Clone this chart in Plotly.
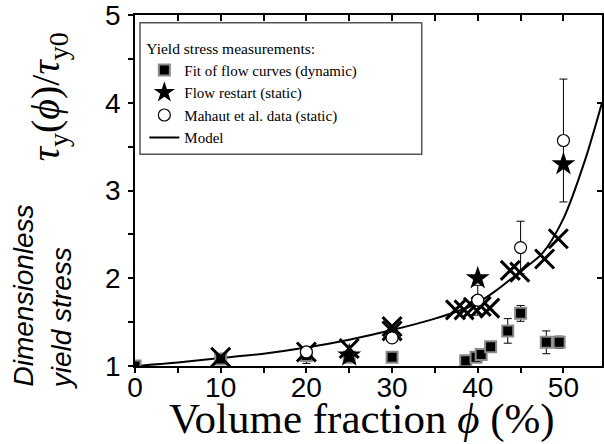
import plotly.graph_objects as go

# Fit of flow curves (dynamic)
sq_x = [0, 10, 20, 25, 30, 38.6, 39.8, 40.4, 41.5, 43.5, 45.0, 48.0, 49.5]
sq_y = [1.0, 1.08, 1.12, 1.1, 1.1, 1.06, 1.1, 1.13, 1.22, 1.40, 1.60, 1.27, 1.27]
sq_err = [0, 0, 0.09, 0, 0, 0, 0, 0, 0, 0.14, 0.09, 0.13, 0.07]

# Flow restart (static)
st_x = [25, 40, 50]
st_y = [1.12, 2.0, 3.3]

# Mahaut et al. data (static)
ci_x = [20, 30, 40, 45, 50]
ci_y = [1.16, 1.32, 1.75, 2.35, 3.57]
ci_err = [0, 0, 0.17, 0.3, 0.7]

# cross markers (no legend entry)
xx_x = [10, 20, 25, 30, 30, 37.4, 38.4, 39.5, 40.4, 41.4, 43.8, 44.9, 47.8, 49.4]
xx_y = [1.1, 1.16, 1.2, 1.45, 1.40, 1.64, 1.64, 1.67, 1.68, 1.66, 2.09, 2.07, 2.22, 2.45]

# Model curve
md_x = [0, 5, 10, 15, 20, 25, 30, 35, 38.9, 40, 42, 45, 47.5, 50, 52.5, 54.5]
md_y = [1.0, 1.04, 1.09, 1.14, 1.21, 1.30, 1.41, 1.54, 1.67, 1.72, 1.85, 2.08, 2.28, 2.68, 3.34, 4.0]

x_ticks = [0, 10, 20, 30, 40, 50]
y_ticks = [1, 2, 3, 4, 5]
top_ticks = [0, 5, 10, 15, 20, 25, 30, 35, 40, 45, 50]

SERIF = "Liberation Serif"
SANS = "Liberation Sans"

fig = go.Figure()

fig.add_trace(go.Scatter(x=md_x, y=md_y, mode="lines", name="Model",
                         line=dict(color="black", width=2, shape="spline", smoothing=0.8),
                         legendrank=4))
fig.add_trace(go.Scatter(x=sq_x, y=sq_y, mode="markers", name="Fit of flow curves (dynamic)",
                         marker=dict(symbol="square", size=11, color="black",
                                     line=dict(color="#8a8a8a", width=2)),
                         error_y=dict(type="data", array=sq_err, color="black", thickness=1, width=4),
                         legendrank=1))
fig.add_trace(go.Scatter(x=xx_x, y=xx_y, mode="markers", showlegend=False,
                         marker=dict(symbol="x-thin", size=19, color="black",
                                     line=dict(color="black", width=3))))
fig.add_trace(go.Scatter(x=st_x, y=st_y, mode="markers", name="Flow restart (static)",
                         marker=dict(symbol="star", size=18, color="black",
                                     line=dict(width=0)),
                         legendrank=2))
fig.add_trace(go.Scatter(x=ci_x, y=ci_y, mode="markers", name="Mahaut et al. data (static)",
                         marker=dict(symbol="circle", size=12, color="white",
                                     line=dict(color="black", width=1.2)),
                         error_y=dict(type="data", array=ci_err, color="black", thickness=1, width=4),
                         legendrank=3))

axis_common = dict(showline=True, linecolor="black", linewidth=1.5, showgrid=False,
                   zeroline=False, tickcolor="black", tickwidth=1.5)

YR = [1, 5.0005]
XR = [0, 54.5]

# invisible anchor traces so that the top / right tick axes exist
fig.add_trace(go.Scatter(x=md_x, y=md_y, xaxis="x2", yaxis="y", mode="lines",
                         line=dict(width=0, color="rgba(0,0,0,0)"), showlegend=False,
                         hoverinfo="skip"))
fig.add_trace(go.Scatter(x=md_x, y=md_y, xaxis="x", yaxis="y2", mode="lines",
                         line=dict(width=0, color="rgba(0,0,0,0)"), showlegend=False,
                         hoverinfo="skip"))

fig.update_layout(
    width=604, height=444,
    margin=dict(l=135, r=0, t=15, b=78),
    paper_bgcolor="white", plot_bgcolor="white",
    showlegend=True,
    xaxis=dict(range=XR, tickvals=x_ticks, ticks="outside", ticklen=5, mirror=True,
               minor=dict(dtick=5, ticks="outside", ticklen=5, tickcolor="black", tickwidth=1.5),
               tickfont=dict(family=SANS, size=28, color="black"), ticklabelstandoff=-9,
               ticklabeloverflow="allow", **axis_common),
    yaxis=dict(range=YR, tickvals=y_ticks, ticks="outside", ticklen=5, mirror=True,
               minor=dict(dtick=0.5, ticks="outside", ticklen=5, tickcolor="black", tickwidth=1.5),
               tickfont=dict(family=SANS, size=28, color="black"), ticklabelstandoff=2,
               ticklabeloverflow="allow", **axis_common),
    xaxis2=dict(range=XR, overlaying="x", side="top", anchor="y", tickvals=top_ticks,
                ticks="inside", ticklen=6, showticklabels=False, **axis_common),
    yaxis2=dict(range=YR, overlaying="y", side="right", anchor="x", tickvals=y_ticks,
                ticks="inside", ticklen=5, showticklabels=False, **axis_common),
    legend=dict(x=0.02, y=0.947, xanchor="left", yanchor="top",
                bgcolor="rgba(0,0,0,0)", borderwidth=0,
                font=dict(family=SERIF, size=15, color="black"),
                title=dict(text="Yield stress measurements:", font=dict(family=SERIF, size=15.5, color="black")),
                itemsizing="trace", tracegroupgap=0),
)

fig.add_shape(type="rect", xref="paper", yref="paper", x0=0.0107, x1=0.614, y0=0.603, y1=0.978,
              line=dict(color="#555555", width=1.5), fillcolor="rgba(0,0,0,0)")

# y-axis labels
fig.add_annotation(xref="paper", yref="paper", x=(48 - 135) / 469, y=1 - (97 - 15) / 351,
                   text="<i>τ</i><sub>y</sub>(<i>ϕ</i>)/<i>τ</i><sub>y0</sub>",
                   textangle=-90, showarrow=False, xanchor="center", yanchor="middle",
                   font=dict(family=SERIF, size=40, color="black"))
fig.add_annotation(xref="paper", yref="paper", x=(23 - 135) / 469, y=1 - (295 - 15) / 351,
                   text="<i>Dimensionless</i>", textangle=-90, showarrow=False,
                   xanchor="center", yanchor="middle",
                   font=dict(family=SANS, size=28, color="black"))
fig.add_annotation(xref="paper", yref="paper", x=(61 - 135) / 469, y=1 - (318 - 15) / 351,
                   text="<i>yield stress</i>", textangle=-90, showarrow=False,
                   xanchor="center", yanchor="middle",
                   font=dict(family=SANS, size=28, color="black"))
# x-axis label
fig.add_annotation(xref="paper", yref="paper", x=(363 - 135) / 469, y=1 - (419 - 15) / 351,
                   text="Volume fraction <i>ϕ</i> (%)", showarrow=False,
                   xanchor="center", yanchor="middle",
                   font=dict(family=SERIF, size=43, color="black"))

fig.write_html("out.html", config={"displayModeBar": False},
               post_script="document.body.style.margin='0px';")
